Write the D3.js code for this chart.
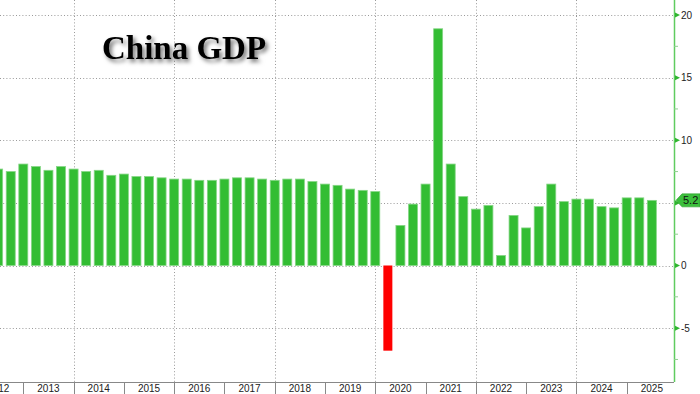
<!DOCTYPE html>
<html>
<head>
<meta charset="utf-8">
<script src="https://cdn.jsdelivr.net/npm/d3@7"></script>
<style>
  body { margin: 0; background: #fff; }
  svg { display: block; }
</style>
</head>
<body>
<svg width="700" height="394"></svg>
<script>
// quarterly real GDP growth y/y, %, Q2 2012 .. Q2 2025
var quarters = [
  '2012Q2', '2012Q3', '2012Q4',
  '2013Q1', '2013Q2', '2013Q3', '2013Q4',
  '2014Q1', '2014Q2', '2014Q3', '2014Q4',
  '2015Q1', '2015Q2', '2015Q3', '2015Q4',
  '2016Q1', '2016Q2', '2016Q3', '2016Q4',
  '2017Q1', '2017Q2', '2017Q3', '2017Q4',
  '2018Q1', '2018Q2', '2018Q3', '2018Q4',
  '2019Q1', '2019Q2', '2019Q3', '2019Q4',
  '2020Q1', '2020Q2', '2020Q3', '2020Q4',
  '2021Q1', '2021Q2', '2021Q3', '2021Q4',
  '2022Q1', '2022Q2', '2022Q3', '2022Q4',
  '2023Q1', '2023Q2', '2023Q3', '2023Q4',
  '2024Q1', '2024Q2', '2024Q3', '2024Q4',
  '2025Q1', '2025Q2'
];
var gdp = [
  7.7, 7.5, 8.1,
  7.9, 7.6, 7.9, 7.7,
  7.5, 7.6, 7.2, 7.3,
  7.1, 7.1, 7.0, 6.9,
  6.9, 6.8, 6.8, 6.9,
  7.0, 7.0, 6.9, 6.8,
  6.9, 6.9, 6.7, 6.5,
  6.4, 6.1, 6.0, 5.9,
  -6.8, 3.2, 4.9, 6.5,
  18.9, 8.1, 5.5, 4.5,
  4.8, 0.8, 4.0, 3.0,
  4.7, 6.5, 5.1, 5.3,
  5.3, 4.7, 4.6, 5.4,
  5.4, 5.2
];
var years = [2012, 2013, 2014, 2015, 2016, 2017, 2018, 2019, 2020, 2021, 2022, 2023, 2024, 2025];
var yTicks = [-5, 0, 5, 10, 15, 20];
var yMinor = [-7.5, -2.5, 2.5, 7.5, 12.5, 17.5];
var lastLabel = '5.2';

var svg = d3.select('svg');
var svgWidth = +svg.attr('width');
var svgHeight = +svg.attr('height');

var axisX = 674;     // right value axis
var baseY = 382;     // bottom time axis

var data = quarters.map(function(q, i) {
  var yr = +q.slice(0, 4), qn = +q.slice(5);
  // bloomberg puts each bar at the quarter end
  return {q: q, t: yr + qn / 4, v: gdp[i]};
});

var x = d3.scaleLinear().domain([2013, 2025]).range([23.3, 626.7]);
var y = d3.scaleLinear().domain([0, 20]).range([265.5, 15]);

var barW = 9;
var green = '#33bd33';

// drop shadow for title
var defs = svg.append('defs');
var f = defs.append('filter').attr('id', 'shadow')
  .attr('x', '-10%').attr('y', '-20%').attr('width', '130%').attr('height', '160%');
f.append('feDropShadow').attr('dx', 2.5).attr('dy', 3).attr('stdDeviation', 2)
  .attr('flood-color', '#000').attr('flood-opacity', 0.55);

var gridG = svg.append('g').attr('stroke', '#9a9a9a').attr('stroke-width', 1)
  .attr('stroke-dasharray', '1,2.2');

//horizontal dotted grid
gridG.selectAll('line.h').data(yTicks).enter().append('line')
  .attr('class', 'h')
  .attr('x1', 0).attr('x2', axisX)
  .attr('y1', function(d) { return Math.round(y(d)) + 0.5; })
  .attr('y2', function(d) { return Math.round(y(d)) + 0.5; });

//vertical dotted grid every other year
gridG.selectAll('line.v').data(years.filter(function(d) { return d % 2 === 0 && d > 2012; }))
  .enter().append('line')
  .attr('class', 'v')
  .attr('x1', function(d) { return Math.round(x(d)) + 0.5; })
  .attr('x2', function(d) { return Math.round(x(d)) + 0.5; })
  .attr('y1', 0).attr('y2', baseY);

//bars
svg.append('g').selectAll('rect').data(data).enter().append('rect')
  .attr('x', function(d) { return x(d.t) - barW / 2; })
  .attr('width', barW)
  .attr('y', function(d) { return y(Math.max(0, d.v)); })
  .attr('height', function(d) { return Math.abs(y(d.v) - y(0)); })
  .attr('fill', function(d) { return d.v < 0 ? '#ff0000' : green; })
  .attr('stroke', function(d) { return d.v < 0 ? 'none' : '#86d686'; })
  .attr('stroke-width', 0.8);

//bottom time axis
svg.append('line')
  .attr('x1', 0).attr('x2', axisX)
  .attr('y1', baseY + 0.5).attr('y2', baseY + 0.5)
  .attr('stroke', '#888');

svg.append('g').selectAll('line').data(years.filter(function(d) { return d > 2012; }))
  .enter().append('line')
  .attr('x1', function(d) { return Math.round(x(d)) + 0.5; })
  .attr('x2', function(d) { return Math.round(x(d)) + 0.5; })
  .attr('y1', baseY).attr('y2', svgHeight)
  .attr('stroke', '#888');

svg.append('g').selectAll('text').data(years).enter().append('text')
  .attr('x', function(d) { return x(d + 0.5); })
  .attr('y', 392)
  .attr('text-anchor', 'middle')
  .style('font-family', 'Liberation Sans, Arial, sans-serif')
  .style('font-size', '10px')
  .attr('fill', '#222')
  .text(function(d) { return d; });

//right value axis
svg.append('line')
  .attr('x1', axisX + 0.5).attr('x2', axisX + 0.5)
  .attr('y1', 0).attr('y2', baseY)
  .attr('stroke', '#5fcc5f').attr('stroke-width', 1.5);

svg.append('g').selectAll('line').data(yMinor).enter().append('line')
  .attr('x1', axisX).attr('x2', axisX + 4)
  .attr('y1', function(d) { return y(d); })
  .attr('y2', function(d) { return y(d); })
  .attr('stroke', '#8fcf8f');

svg.append('g').selectAll('path').data(yTicks).enter().append('path')
  .attr('d', function(d) {
    var yy = y(d);
    return 'M' + (axisX + 1) + ',' + (yy - 2.5) + 'L' + (axisX + 6) + ',' + yy + 'L' + (axisX + 1) + ',' + (yy + 2.5) + 'Z';
  })
  .attr('fill', '#2fb52f');

svg.append('g').selectAll('text').data(yTicks.filter(function(d) { return d !== 5; }))
  .enter().append('text')
  .attr('x', axisX + 7)
  .attr('y', function(d) { return y(d) + 3.5; })
  .style('font-family', 'Liberation Sans, Arial, sans-serif')
  .style('font-size', '10px')
  .attr('fill', '#222')
  .text(function(d) { return d; });

//last value callout
var lastY = y(gdp[gdp.length - 1]);
svg.append('path')
  .attr('d', 'M' + (axisX + 2) + ',' + lastY +
    'L' + (axisX + 8) + ',' + (lastY - 6.5) +
    'L' + svgWidth + ',' + (lastY - 6.5) +
    'L' + svgWidth + ',' + (lastY + 6.5) +
    'L' + (axisX + 8) + ',' + (lastY + 6.5) + 'Z')
  .attr('fill', '#3cbf3c').attr('stroke', '#2a9e2a').attr('stroke-width', 0.6);

svg.append('text')
  .attr('x', axisX + 9)
  .attr('y', lastY + 4)
  .style('font-family', 'Liberation Sans, Arial, sans-serif')
  .style('font-size', '11px')
  .attr('fill', '#111')
  .text(lastLabel);

//title
svg.append('text')
  .attr('x', 102)
  .attr('y', 59)
  .style('font-family', 'Liberation Serif, Times New Roman, serif')
  .style('font-size', '33px')
  .style('font-weight', 700)
  .attr('fill', '#000')
  .attr('filter', 'url(#shadow)')
  .text('China GDP');
</script>
</body>
</html>
